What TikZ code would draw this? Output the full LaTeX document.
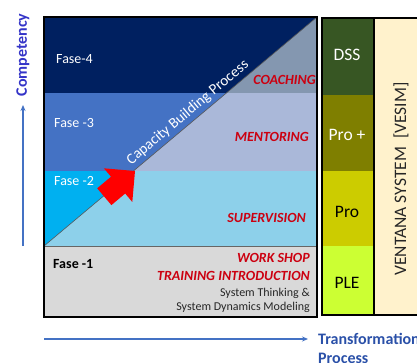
\documentclass[tikz,border=0pt]{standalone}
\usepackage{fontspec}
\setmainfont{Carlito}
\usetikzlibrary{arrows.meta}

\definecolor{faseFourDark}{HTML}{002060}
\definecolor{faseFourLight}{HTML}{8497B0}
\definecolor{faseThreeDark}{HTML}{4472C4}
\definecolor{faseThreeLight}{HTML}{AAB8D9}
\definecolor{faseTwoDark}{HTML}{00B0F0}
\definecolor{faseTwoLight}{HTML}{8DD0EA}
\definecolor{faseOneGray}{HTML}{D9D9D9}
\definecolor{levelDSS}{HTML}{375623}
\definecolor{levelProPlus}{HTML}{7F7F00}
\definecolor{levelPro}{HTML}{CCCC00}
\definecolor{levelPLE}{HTML}{CCFF33}
\definecolor{ventanaCream}{HTML}{FFF2CC}
\definecolor{methodRed}{HTML}{CC0010}
\definecolor{arrowRed}{HTML}{FF0000}
\definecolor{axisBlue}{HTML}{4472C4}
\definecolor{competencyBlue}{HTML}{3434C8}
\definecolor{transformBlue}{HTML}{2A50A8}

\begin{document}
\begin{tikzpicture}[x=1pt,y=-1pt,
  phase/.style={anchor=west, inner sep=0pt, text=white, font=\fontsize{14}{16}\selectfont},
  method/.style={anchor=east, inner sep=0pt, text=methodRed, font=\fontsize{14}{16}\selectfont\bfseries\itshape},
  note/.style={anchor=east, inner sep=0pt, text=black!85, font=\fontsize{12}{14}\selectfont},
  level/.style={inner sep=0pt, font=\fontsize{17.5}{20}\selectfont},
  axislabel/.style={inner sep=0pt, font=\fontsize{16}{19}\selectfont\bfseries},
  axisline/.style={draw=axisBlue, line width=1.4pt, -{Stealth[length=6pt,width=5pt]}},
  frame/.style={draw=black, line width=1.6pt}
]
\useasboundingbox (0,0) rectangle (417,363);

% phase bands (lighter part, right of the diagonal)
\fill[faseOneGray]    (44,246) rectangle (317,317);
\fill[faseTwoLight]   (44,171) rectangle (317,246);
\fill[faseThreeLight] (44,93)  rectangle (317,171);
\fill[faseFourLight]  (44,17)  rectangle (317,93);

% darker part, left of the diagonal
\begin{scope}
  \clip (44,17) -- (317,17) -- (44,246) -- cycle;
  \fill[faseFourDark]  (44,17)  rectangle (317,93);
  \fill[faseThreeDark] (44,93)  rectangle (317,171);
  \fill[faseTwoDark]   (44,171) rectangle (317,246);
\end{scope}

\coordinate (diagLow) at (44,246);
\coordinate (diagHigh) at (317,17);
\coordinate (bandLeft) at (44,246);
\coordinate (bandRight) at (317,246);
\draw[black!65, line width=0.6pt] (diagLow) -- (diagHigh);
\draw[black!60, line width=0.8pt] (bandLeft) -- (bandRight);
\draw[frame] (44,17) rectangle (317,317);

% capacity building arrow
\fill[arrowRed] (135,171) -- (103.9,168.3) -- (111.0,176.7) -- (97.2,188.3)
  -- (111.4,205.1) -- (125.2,193.5) -- (132.3,202.0) -- cycle;

\node[rotate=40, anchor=south, inner sep=3pt, text=white,
      font=\fontsize{15}{18}\selectfont] (cbp) at (194,120) {Capacity Building Process};

% phase names
\node[phase] (f4) at (56,59)  {Fase-4};
\node[phase] (f3) at (54,123) {Fase -3};
\node[phase] (f2) at (54,181) {Fase -2};
\node[phase, text=black, font=\fontsize{14}{16}\selectfont\bfseries] (f1) at (53,264) {Fase -1};

% methods
\node[method] (coach) at (316,80)  {COACHING};
\node[method] (mentor) at (309,137) {MENTORING};
\node[method] (superv) at (306,218) {SUPERVISION};
\node[method] (work) at (310,258) {WORK SHOP};
\node[method] (train) at (310,276) {TRAINING INTRODUCTION};
\node[note] (st) at (310,293) {System Thinking \&};
\node[note] (sdm) at (310,307) {System Dynamics Modeling};

% level column
\fill[levelDSS]     (322,18)  rectangle (374,95);
\fill[levelProPlus] (322,95)  rectangle (374,171);
\fill[levelPro]     (322,171) rectangle (374,246);
\fill[levelPLE]     (322,246) rectangle (374,315);
\draw[frame] (322,18) rectangle (374,315);
\node[level, text=white] (dss) at (347,55)  {DSS};
\node[level, text=white] (proplus) at (347,135) {Pro +};
\node[level] (pro) at (347,212) {Pro};
\node[level] (ple) at (347,283) {PLE};

% simulation system column
\fill[ventanaCream] (374,18) rectangle (420,315);
\draw[frame] (420,18) -- (374,18) -- (374,315) -- (420,315);
\node[level, rotate=90, text=black!85] (vesim) at (401,179) {VENTANA SYSTEM\ \ [VESIM]};

% axes
\coordinate (vaxFrom) at (23,246);
\coordinate (vaxTo) at (23,105);
\draw[axisline] (vaxFrom) -- (vaxTo);
\node[axislabel, rotate=90, text=competencyBlue] (comp) at (23,55) {Competency};

\coordinate (haxFrom) at (44,339);
\coordinate (haxTo) at (308,339);
\draw[axisline] (haxFrom) -- (haxTo);
\node[axislabel, anchor=west, text=transformBlue] (trans) at (318,339) {Transformation};
\node[axislabel, anchor=west, text=transformBlue] (proc) at (318,358) {Process};
\end{tikzpicture}
\end{document}
